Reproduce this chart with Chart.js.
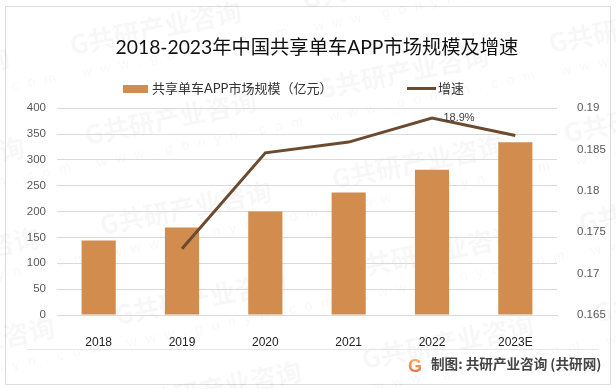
<!DOCTYPE html>
<html>
<head>
<meta charset="utf-8">
<script src="https://cdn.jsdelivr.net/npm/chart.js@4"></script>
<style>
html, body { margin: 0; padding: 0; background: #fff; }
canvas { display: block; }
</style>
</head>
<body>
<canvas id="viz" width="616" height="389"></canvas>
<script>
const CATEGORIES = ['2018', '2019', '2020', '2021', '2022', '2023E'];
const SCALE_VALUES = [144, 169, 200, 237, 281, 334];
const GROWTH_VALUES = [null, 0.173, 0.1846, 0.1859, 0.1888, 0.1867];
const SCALE_NAME = '共享单车APP市场规模（亿元）';
const GROWTH_NAME = '增速';
const GROWTH_LABEL = '18.9%';
const TITLE = '2018-2023年中国共享单车APP市场规模及增速';
const FOOTER = '制图: 共研产业咨询 (共研网)';

const BAR_COLOR = '#D18C4E';
const LINE_COLOR = '#6B4A2F';
const FONT = 'Lato, "Noto Sans CJK SC", sans-serif';
const LEGEND_GAP = 79;

function swatch(w, h, color) {
    const c = document.createElement('canvas');
    c.width = w;
    c.height = h;
    const g = c.getContext('2d');
    g.fillStyle = color;
    g.fillRect(0, 0, w, h);
    return c;
}

// frame, watermark and footer of the picture
const decoration = {
    id: 'decoration',
    beforeInit(chart) {
        // the legend gap is wide, do not let it eat the plot height
        const fit = chart.legend.fit;
        chart.legend.fit = function () {
            fit.call(this);
            this.height = 49;
        };
    },
    afterLayout(chart) {
        chart.titleBlock.left += 18;
        chart.legend.left = 125.5 - LEGEND_GAP;
        chart.legend.top = 90 - LEGEND_GAP - 8;
    },
    beforeDraw(chart) {
        const ctx = chart.ctx;
        ctx.save();
        ctx.fillStyle = '#fff';
        ctx.fillRect(0, 0, 616, 389);
        ctx.strokeStyle = '#dcdcdc';
        ctx.lineWidth = 1;
        ctx.strokeRect(5.5, 6.5, 605, 378);

        ctx.textAlign = 'left';
        ctx.textBaseline = 'alphabetic';
        for (let i = -2; i < 4; i++) {
            for (let j = -1; j < 6; j++) {
                const x = 72 + i * 232 + j * 15;
                const y = 55 - i * 46 + j * 90;
                ctx.save();
                ctx.translate(x, y);
                ctx.rotate(-0.2);
                ctx.fillStyle = 'rgba(0,0,0,0.03)';
                ctx.font = 'bold 26px "Noto Sans CJK SC"';
                ctx.fillText('G共研产业咨询', 0, 0);
                ctx.font = '14px "Liberation Sans"';
                ctx.letterSpacing = '9px';
                ctx.fillText('www.gonyn.com', 6, 24);
                ctx.letterSpacing = '0px';
                ctx.restore();
            }
        }

        ctx.strokeStyle = '#e6e6e6';
        ctx.beginPath();
        ctx.moveTo(27, 349.5);
        ctx.lineTo(599, 349.5);
        ctx.stroke();

        const grad = ctx.createLinearGradient(0, 358, 0, 373);
        grad.addColorStop(0, '#F7B267');
        grad.addColorStop(1, '#EE6A3A');
        ctx.fillStyle = grad;
        ctx.font = 'bold 18px "Liberation Sans"';
        ctx.fillText('G', 408, 372);

        ctx.fillStyle = '#444';
        ctx.font = 'bold 13.6px "Noto Sans CJK SC"';
        ctx.fillText(FOOTER, 431, 369);
        ctx.restore();
    },
    afterDatasetsDraw(chart) {
        const pt = chart.getDatasetMeta(1).data[4];
        const ctx = chart.ctx;
        ctx.save();
        ctx.fillStyle = '#404040';
        ctx.font = '11px "Liberation Sans"';
        ctx.textAlign = 'center';
        ctx.textBaseline = 'middle';
        ctx.fillText(GROWTH_LABEL, pt.x + 27, pt.y);
        ctx.restore();
    }
};

new Chart(document.getElementById('viz'), {
    type: 'bar',
    data: {
        labels: CATEGORIES,
        datasets: [{
            label: SCALE_NAME,
            data: SCALE_VALUES,
            backgroundColor: BAR_COLOR,
            barPercentage: 0.41,
            categoryPercentage: 1,
            yAxisID: 'y',
            order: 2
        }, {
            type: 'line',
            label: GROWTH_NAME,
            data: GROWTH_VALUES,
            borderColor: LINE_COLOR,
            backgroundColor: LINE_COLOR,
            borderWidth: 3,
            pointRadius: 0,
            tension: 0,
            yAxisID: 'y1',
            order: 1
        }]
    },
    options: {
        responsive: false,
        animation: false,
        scales: {
            x: {
                grid: { display: false },
                border: { color: '#d9d9d9' },
                ticks: {
                    color: '#222',
                    padding: 12,
                    maxRotation: 0,
                    font: { family: '"Liberation Sans"', size: 12 }
                },
                afterFit: (scale) => { scale.height = 74; }
            },
            y: {
                position: 'left',
                min: 0,
                max: 400,
                grid: { color: '#d9d9d9', drawTicks: false },
                border: { display: false },
                ticks: {
                    stepSize: 50,
                    color: '#595959',
                    padding: 11,
                    font: { family: '"Liberation Sans"', size: 11.5 }
                },
                afterFit: (scale) => { scale.width = 57; }
            },
            y1: {
                position: 'right',
                min: 0.165,
                max: 0.19,
                grid: { display: false },
                border: { display: false },
                ticks: {
                    stepSize: 0.005,
                    color: '#595959',
                    padding: 12,
                    font: { family: '"Liberation Sans"', size: 11.5 },
                    callback: (value) => String(+value.toFixed(3))
                },
                afterFit: (scale) => { scale.width = 59; }
            }
        },
        plugins: {
            title: {
                display: true,
                text: TITLE,
                color: '#111',
                font: { family: FONT, size: 19.3, weight: 'normal' },
                padding: { top: 36, bottom: 0 }
            },
            legend: {
                display: true,
                position: 'top',
                align: 'start',
                labels: {
                    color: '#333',
                    font: { family: FONT, size: 13 },
                    usePointStyle: true,
                    pointStyleWidth: 20,
                    padding: LEGEND_GAP,
                    generateLabels: (chart) => chart.data.datasets.map((ds, i) => ({
                        text: ds.label,
                        datasetIndex: i,
                        fontColor: '#333',
                        pointStyle: i === 0 ? swatch(25, 8, BAR_COLOR) : swatch(29, 3, LINE_COLOR)
                    }))
                }
            },
            tooltip: { enabled: false }
        }
    },
    plugins: [decoration]
});
</script>
</body>
</html>
